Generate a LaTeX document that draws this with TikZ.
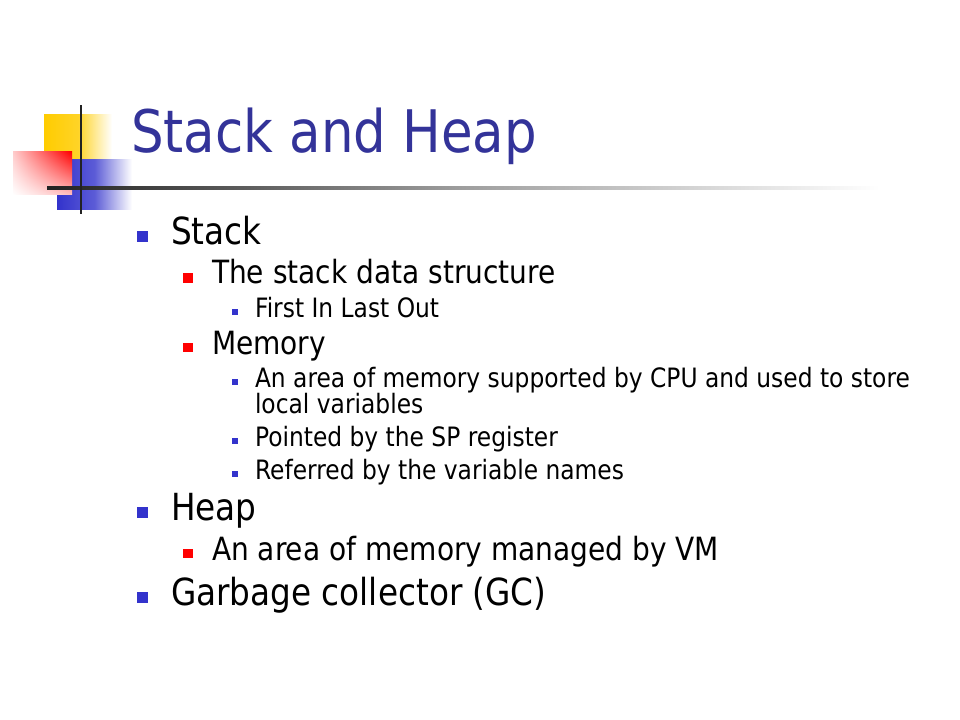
\documentclass[tikz,border=0pt]{standalone}
\usepackage{fontspec}
\setmainfont[FakeStretch=0.876]{DejaVu Sans}
\usetikzlibrary{shadings}
\definecolor{titleblue}{HTML}{333399}
\definecolor{bulblue}{HTML}{3333CC}
\definecolor{bulred}{HTML}{FF0000}
\definecolor{logoyellow}{HTML}{FFCC00}
\definecolor{linedark}{HTML}{222222}
\begin{document}
\begin{tikzpicture}[x=0.75pt,y=-0.75pt,
  txt/.style={anchor=base west, inner sep=0pt, outer sep=0pt, text=black},
  titletxt/.style={txt, text=titleblue, font=\fontsize{44}{53}\selectfont},
  lone/.style={txt, font=\fontsize{28}{34}\selectfont},
  ltwo/.style={txt, font=\fontsize{24}{29}\selectfont},
  lthree/.style={txt, font=\fontsize{20}{24}\selectfont},
  bul/.style={rectangle, inner sep=0pt, outer sep=0pt, draw=none},
  bone/.style={bul, fill=bulblue, minimum size=8.25pt},
  btwo/.style={bul, fill=bulred, minimum size=7pt},
  bthree/.style={bul, fill=bulblue, minimum size=4.8pt}
]
\useasboundingbox[fill=white] (0,0) rectangle (960,720);

% logo
\shade[left color=logoyellow, right color=white, middle color=logoyellow!85]
  (44,115) rectangle (112,160);
\shade[left color=bulblue, right color=white, middle color=bulblue!80]
  (57,160) rectangle (132,210);
\shade[upper right=bulred, upper left=bulred!20, lower right=bulred!25, lower left=white]
  (13,152) rectangle (72,195);
\shade[left color=linedark, right color=white, middle color=black!38]
  (47,186.6) rectangle (880,189.4);
\fill[linedark] (80,105) rectangle (82.2,214);

% title
\node[titletxt] (title) at (131,153) {Stack and Heap};

% body
\node[bone] (b1) at (142.5,237) {};
\node[lone] (t1) at (171,245) {Stack};
\node[btwo] (b2) at (188,278) {};
\node[ltwo] (t2) at (212,284) {The stack data structure};
\node[bthree] (b3) at (235,312) {};
\node[lthree] (t3) at (255,317) {First In Last Out};
\node[btwo] (b4) at (188,347.5) {};
\node[ltwo] (t4) at (212,354) {Memory};
\node[bthree] (b5) at (235,382) {};
\node[lthree] (t5) at (255,387) {An area of memory supported by CPU and used to store};
\node[lthree] (t5b) at (255,413) {local variables};
\node[bthree] (b6) at (235,441) {};
\node[lthree] (t6) at (255,446) {Pointed by the SP register};
\node[bthree] (b7) at (235,474) {};
\node[lthree] (t7) at (255,479) {Referred by the variable names};
\node[bone] (b8) at (142.5,512) {};
\node[lone] (t8) at (171,520) {Heap};
\node[btwo] (b9) at (188,553.5) {};
\node[ltwo] (t9) at (212,560) {An area of memory managed by VM};
\node[bone] (b10) at (142.5,597) {};
\node[lone] (t10) at (171,605) {Garbage collector (GC)};
\end{tikzpicture}
\end{document}
